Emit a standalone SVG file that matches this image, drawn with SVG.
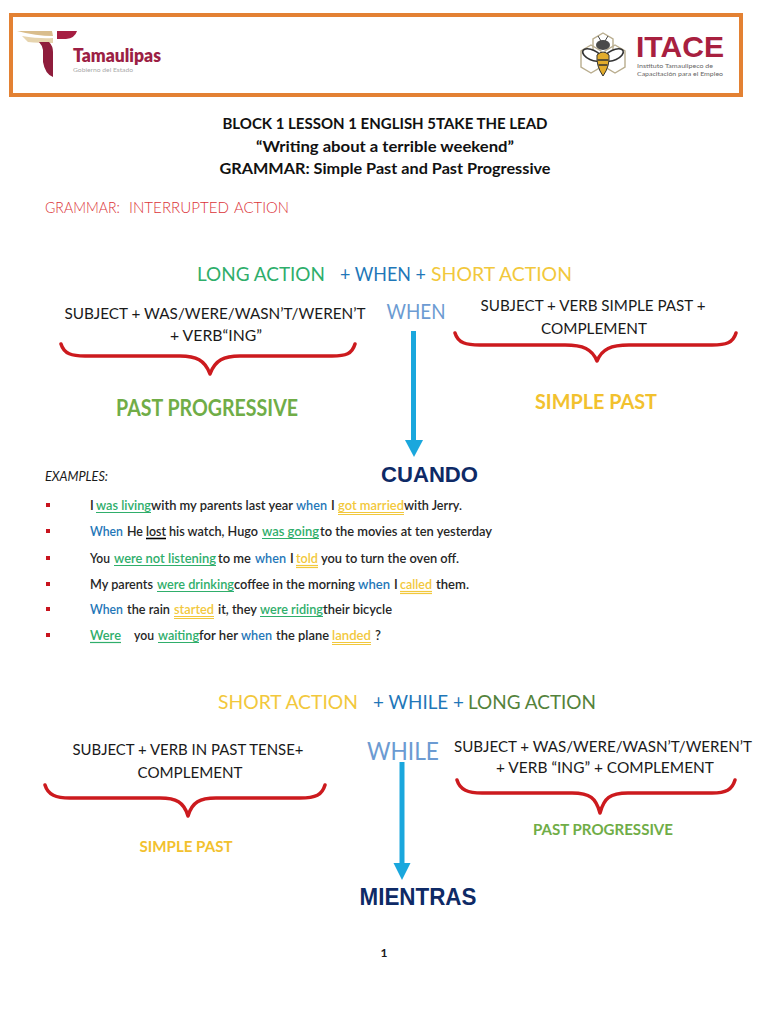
<svg xmlns="http://www.w3.org/2000/svg" width="768" height="1024" viewBox="0 0 768 1024">
<style>
text{font-family:"Lato","Open Sans","Liberation Sans",sans-serif;fill:#1a1a1a}
.t{font-size:15.500px;font-weight:700;text-anchor:middle;fill:#111}
.b{font-size:16px;text-anchor:middle}
.h{font-size:20px}
.e{font-size:13px;font-weight:600;fill:#262626}
.g{fill:#2fae6b}.y{fill:#f2c83c}.w{fill:#1f77b8}
.r{font-size:15px;font-weight:300;fill:#db3338}
.ug{stroke:#2fae6b;stroke-width:1.2}.uy{stroke:#f2c83c;stroke-width:1.2}
.brace{fill:none;stroke:#cc1a1e;stroke-width:3.500;stroke-linecap:round;stroke-linejoin:round}
.arrow{fill:none;stroke:#1aa7dd;stroke-width:5}
.ar{fill:#1aa7dd}
.hd{font-family:"Liberation Sans",sans-serif;font-weight:700;fill:#0e2a66;text-anchor:middle}
</style>
<rect width="768" height="1024" fill="#fff"/>
<g id="header">
<rect x="11" y="15" width="730" height="80" fill="#fff" stroke="#e38133" stroke-width="4"/>
<g id="logo-tamaulipas">
<path d="M17 31H52L53 36Q36 36 17 31Z" fill="#d9bd8c"/>
<path d="M22 36Q40 39 53 38L53 43Q38 43 28 42Z" fill="#e6d4ae"/>
<path d="M39 42H49Q53 46 53 52V77Q45 74 43 62V50Q42 45 39 42Z" fill="#8f1d3c"/>
<path d="M57 31H77Q75 38 66 39H57Z" fill="#a61e42"/>
<text x="73" y="62" font-size="18" font-weight="800" style="fill:#9c1f45" textLength="88" lengthAdjust="spacingAndGlyphs">Tamaulipas</text>
<text x="73" y="71.500" font-size="6" style="fill:#a9a9a9" textLength="60" lengthAdjust="spacingAndGlyphs">Gobierno del Estado</text>
</g>
<g id="logo-itace">
<g fill="none" stroke="#b9ad8e" stroke-width="1.4">
<path d="M603 33L613 39V51L603 57L593 51V39Z"/>
<path d="M591 45L601 51V67L591 73L581 67V51Z"/>
<path d="M615 45L625 51V67L615 73L605 67V51Z"/>
</g>
<path d="M598 36L601 41M608 36L605 41" stroke="#444" fill="none"/>
<ellipse cx="603" cy="45" rx="7" ry="5" fill="#4a4a4a"/>
<ellipse cx="592" cy="55" rx="10" ry="5" fill="#fff" stroke="#333" stroke-width="1.600" transform="rotate(25 592 55)"/>
<ellipse cx="614" cy="55" rx="10" ry="5" fill="#fff" stroke="#333" stroke-width="1.600" transform="rotate(-25 614 55)"/>
<path d="M597 55Q603 49 609 55Q610 66 603 76Q596 66 597 55Z" fill="#e2ac2c" stroke="#333"/>
<path d="M597.500 60H608.500M598.500 65H607.500" stroke="#333" stroke-width="1.400"/>
<text x="636" y="57" font-size="30" font-weight="800" style="fill:#a8203f;font-family:'Liberation Sans'" textLength="88" lengthAdjust="spacingAndGlyphs">ITACE</text>
<text x="637" y="67.500" font-size="6.500" style="fill:#666" textLength="76" lengthAdjust="spacingAndGlyphs">Instituto Tamaulipeco de</text>
<text x="637" y="75.500" font-size="6.500" style="fill:#666" textLength="86" lengthAdjust="spacingAndGlyphs">Capacitación para el Empleo</text>
</g>
</g>
<g id="title">
<text class="t" x="385" y="129" textLength="325" lengthAdjust="spacingAndGlyphs">BLOCK 1 LESSON 1 ENGLISH 5TAKE THE LEAD</text>
<text class="t" x="385" y="152" textLength="258" lengthAdjust="spacingAndGlyphs">“Writing about a terrible weekend”</text>
<text class="t" x="385" y="174" textLength="331" lengthAdjust="spacingAndGlyphs">GRAMMAR: Simple Past and Past Progressive</text>
</g>
<g id="grammar-label">
<text class="r" x="45" y="213" textLength="75" lengthAdjust="spacingAndGlyphs">GRAMMAR:</text>
<text class="r" x="129" y="213" textLength="100" lengthAdjust="spacingAndGlyphs">INTERRUPTED</text>
<text class="r" x="234" y="213" textLength="55" lengthAdjust="spacingAndGlyphs">ACTION</text>
</g>
<g id="formula-when">
<text class="h g" x="197" y="281" textLength="128" lengthAdjust="spacingAndGlyphs">LONG ACTION</text>
<text class="h w" x="340" y="281" textLength="86" lengthAdjust="spacingAndGlyphs">+ WHEN +</text>
<text class="h y" x="431" y="281" textLength="141" lengthAdjust="spacingAndGlyphs">SHORT ACTION</text>
</g>
<g id="when-left">
<text class="b" x="215" y="319" textLength="301" lengthAdjust="spacingAndGlyphs">SUBJECT + WAS/WERE/WASN’T/WEREN’T</text>
<text class="b" x="216" y="341" textLength="92" lengthAdjust="spacingAndGlyphs">+ VERB“ING”</text>
<path class="brace" d="M61 344C64 354 72 356 85 356H180C196 356 205 360 210 374C215 360 224 356 240 356H332C346 356 352 354 355 344"/>
<text x="207" y="416" font-size="22" font-weight="700" text-anchor="middle" style="fill:#70ad47" textLength="182" lengthAdjust="spacingAndGlyphs">PAST PROGRESSIVE</text>
</g>
<text id="when-word" x="416" y="319" font-size="21" text-anchor="middle" style="fill:#6c9bd2" textLength="59" lengthAdjust="spacingAndGlyphs">WHEN</text>
<g id="when-right">
<text class="b" x="593" y="311" textLength="225" lengthAdjust="spacingAndGlyphs">SUBJECT + VERB SIMPLE PAST +</text>
<text class="b" x="594" y="334" textLength="106" lengthAdjust="spacingAndGlyphs">COMPLEMENT</text>
<path class="brace" d="M455 333C458 343 466 345 480 345H565C583 345 592 349 597 361C602 349 611 345 629 345H712C726 345 733 343 736 333"/>
<text x="596" y="409" font-size="21" font-weight="700" text-anchor="middle" style="fill:#f2c12e" textLength="122" lengthAdjust="spacingAndGlyphs">SIMPLE PAST</text>
</g>
<g id="connectors">
<line class="arrow" x1="413.500" y1="331" x2="413.500" y2="442"/>
<path class="ar" d="M405 440H423L414 457Z"/>
<line class="arrow" x1="402" y1="762" x2="402" y2="866"/>
<path class="ar" d="M393.500 863H410.500L402 880Z"/>
</g>
<text id="cuando" class="hd" x="429.500" y="482" font-size="22" textLength="97" lengthAdjust="spacingAndGlyphs">CUANDO</text>
<g id="examples">
<text x="45" y="481" font-size="12.500" font-style="italic" textLength="63" lengthAdjust="spacingAndGlyphs">EXAMPLES:</text>
<g fill="#c8141e">
<rect x="46" y="503" width="4" height="4"/><rect x="46" y="529" width="4" height="4"/><rect x="46" y="556" width="4" height="4"/><rect x="46" y="582" width="4" height="4"/><rect x="46" y="607" width="4" height="4"/><rect x="46" y="633" width="4" height="4"/>
</g>
<g id="ex1">
<text class="e" x="90" y="510">I</text>
<text class="e g" x="96" y="510" textLength="55" lengthAdjust="spacingAndGlyphs">was living</text>
<text class="e" x="151" y="510" textLength="142" lengthAdjust="spacingAndGlyphs">with my parents last year</text>
<text class="e w" x="296" y="510" textLength="31" lengthAdjust="spacingAndGlyphs">when</text>
<text class="e" x="331" y="510">I</text>
<text class="e y" x="338" y="510" textLength="66" lengthAdjust="spacingAndGlyphs">got married</text>
<text class="e" x="404" y="510" textLength="58" lengthAdjust="spacingAndGlyphs">with Jerry.</text>
<line class="ug" x1="96" y1="512.500" x2="151" y2="512.500"/>
<line class="uy" x1="338" y1="512.500" x2="404" y2="512.500"/><line class="uy" x1="338" y1="514.500" x2="404" y2="514.500"/>
</g>
<g id="ex2">
<text class="e w" x="90" y="536" textLength="33" lengthAdjust="spacingAndGlyphs">When</text>
<text class="e" x="127" y="536" textLength="16" lengthAdjust="spacingAndGlyphs">He</text>
<text class="e" x="146" y="536" textLength="20" lengthAdjust="spacingAndGlyphs">lost</text>
<text class="e" x="169" y="536" textLength="89" lengthAdjust="spacingAndGlyphs">his watch, Hugo</text>
<text class="e g" x="262" y="536" textLength="57" lengthAdjust="spacingAndGlyphs">was going</text>
<text class="e" x="320" y="536" textLength="172" lengthAdjust="spacingAndGlyphs">to the movies at ten yesterday</text>
<line x1="146" y1="538.500" x2="166" y2="538.500" stroke="#000" stroke-width="1.600"/>
<line class="ug" x1="262" y1="538.500" x2="319" y2="538.500"/>
</g>
<g id="ex3">
<text class="e" x="90" y="563" textLength="20" lengthAdjust="spacingAndGlyphs">You</text>
<text class="e g" x="114" y="563" textLength="102" lengthAdjust="spacingAndGlyphs">were not listening</text>
<text class="e" x="218" y="563" textLength="33" lengthAdjust="spacingAndGlyphs">to me</text>
<text class="e w" x="255" y="563" textLength="31" lengthAdjust="spacingAndGlyphs">when</text>
<text class="e" x="290" y="563">I</text>
<text class="e y" x="296" y="563" textLength="22" lengthAdjust="spacingAndGlyphs">told</text>
<text class="e" x="321" y="563" textLength="138" lengthAdjust="spacingAndGlyphs">you to turn the oven off.</text>
<line class="ug" x1="114" y1="565.500" x2="216" y2="565.500"/>
<line class="uy" x1="296" y1="565.500" x2="318" y2="565.500"/><line class="uy" x1="296" y1="567.500" x2="318" y2="567.500"/>
</g>
<g id="ex4">
<text class="e" x="90" y="589" textLength="63" lengthAdjust="spacingAndGlyphs">My parents</text>
<text class="e g" x="157" y="589" textLength="77" lengthAdjust="spacingAndGlyphs">were drinking</text>
<text class="e" x="234" y="589" textLength="121" lengthAdjust="spacingAndGlyphs">coffee in the morning</text>
<text class="e w" x="358" y="589" textLength="32" lengthAdjust="spacingAndGlyphs">when</text>
<text class="e" x="394" y="589">I</text>
<text class="e y" x="400" y="589" textLength="32" lengthAdjust="spacingAndGlyphs">called</text>
<text class="e" x="436" y="589" textLength="33" lengthAdjust="spacingAndGlyphs">them.</text>
<line class="ug" x1="157" y1="591.500" x2="234" y2="591.500"/>
<line class="uy" x1="400" y1="591.500" x2="432" y2="591.500"/><line class="uy" x1="400" y1="593.500" x2="432" y2="593.500"/>
</g>
<g id="ex5">
<text class="e w" x="90" y="614" textLength="33" lengthAdjust="spacingAndGlyphs">When</text>
<text class="e" x="127" y="614" textLength="43" lengthAdjust="spacingAndGlyphs">the rain</text>
<text class="e y" x="174" y="614" textLength="40" lengthAdjust="spacingAndGlyphs">started</text>
<text class="e" x="218" y="614" textLength="39" lengthAdjust="spacingAndGlyphs">it, they</text>
<text class="e g" x="260" y="614" textLength="63" lengthAdjust="spacingAndGlyphs">were riding</text>
<text class="e" x="323" y="614" textLength="69" lengthAdjust="spacingAndGlyphs">their bicycle</text>
<line class="uy" x1="174" y1="616.500" x2="214" y2="616.500"/><line class="uy" x1="174" y1="618.500" x2="214" y2="618.500"/>
<line class="ug" x1="260" y1="616.500" x2="323" y2="616.500"/>
</g>
<g id="ex6">
<text class="e g" x="90" y="640" textLength="31" lengthAdjust="spacingAndGlyphs">Were</text>
<text class="e" x="134" y="640" textLength="20" lengthAdjust="spacingAndGlyphs">you</text>
<text class="e g" x="158" y="640" textLength="41" lengthAdjust="spacingAndGlyphs">waiting</text>
<text class="e" x="199" y="640" textLength="39" lengthAdjust="spacingAndGlyphs">for her</text>
<text class="e w" x="241" y="640" textLength="31" lengthAdjust="spacingAndGlyphs">when</text>
<text class="e" x="276" y="640" textLength="53" lengthAdjust="spacingAndGlyphs">the plane</text>
<text class="e y" x="332" y="640" textLength="39" lengthAdjust="spacingAndGlyphs">landed</text>
<text class="e" x="375" y="640">?</text>
<line class="ug" x1="90" y1="642.500" x2="121" y2="642.500"/><line class="ug" x1="158" y1="642.500" x2="199" y2="642.500"/>
<line class="uy" x1="332" y1="642.500" x2="371" y2="642.500"/><line class="uy" x1="332" y1="644.500" x2="371" y2="644.500"/>
</g>
</g>
<g id="formula-while">
<text class="h y" x="218" y="709" textLength="140" lengthAdjust="spacingAndGlyphs">SHORT ACTION</text>
<text class="h w" x="373" y="709" textLength="91" lengthAdjust="spacingAndGlyphs">+ WHILE +</text>
<text class="h" x="468" y="709" style="fill:#54823b" textLength="128" lengthAdjust="spacingAndGlyphs">LONG ACTION</text>
</g>
<g id="while-left">
<text class="b" x="188" y="755" textLength="231" lengthAdjust="spacingAndGlyphs">SUBJECT + VERB IN PAST TENSE+</text>
<text class="b" x="190" y="778" textLength="105" lengthAdjust="spacingAndGlyphs">COMPLEMENT</text>
<path class="brace" d="M45 785C48 795 56 798 70 798H160C176 798 184 802 188 816C192 802 200 798 216 798H300C316 798 322 795 325 785"/>
<text x="186" y="852" font-size="16" font-weight="700" text-anchor="middle" style="fill:#f2c12e" textLength="93" lengthAdjust="spacingAndGlyphs">SIMPLE PAST</text>
</g>
<text id="while-word" x="403" y="760" font-size="25" text-anchor="middle" style="fill:#6c9bd2" textLength="72" lengthAdjust="spacingAndGlyphs">WHILE</text>
<g id="while-right">
<text class="b" x="603" y="752" textLength="298" lengthAdjust="spacingAndGlyphs">SUBJECT + WAS/WERE/WASN’T/WEREN’T</text>
<text class="b" x="605" y="773" textLength="218" lengthAdjust="spacingAndGlyphs">+ VERB “ING” + COMPLEMENT</text>
<path class="brace" d="M457 780C460 790 468 793 482 793H572C590 793 596 798 600 813C604 798 610 793 628 793H712C726 793 732 790 735 780"/>
<text x="603" y="835" font-size="16" font-weight="700" text-anchor="middle" style="fill:#70ad47" textLength="140" lengthAdjust="spacingAndGlyphs">PAST PROGRESSIVE</text>
</g>
<text id="mientras" class="hd" x="418" y="905" font-size="23" textLength="117" lengthAdjust="spacingAndGlyphs">MIENTRAS</text>
<text id="page" x="384" y="957" font-size="12" text-anchor="middle" font-weight="700">1</text>
</svg>
